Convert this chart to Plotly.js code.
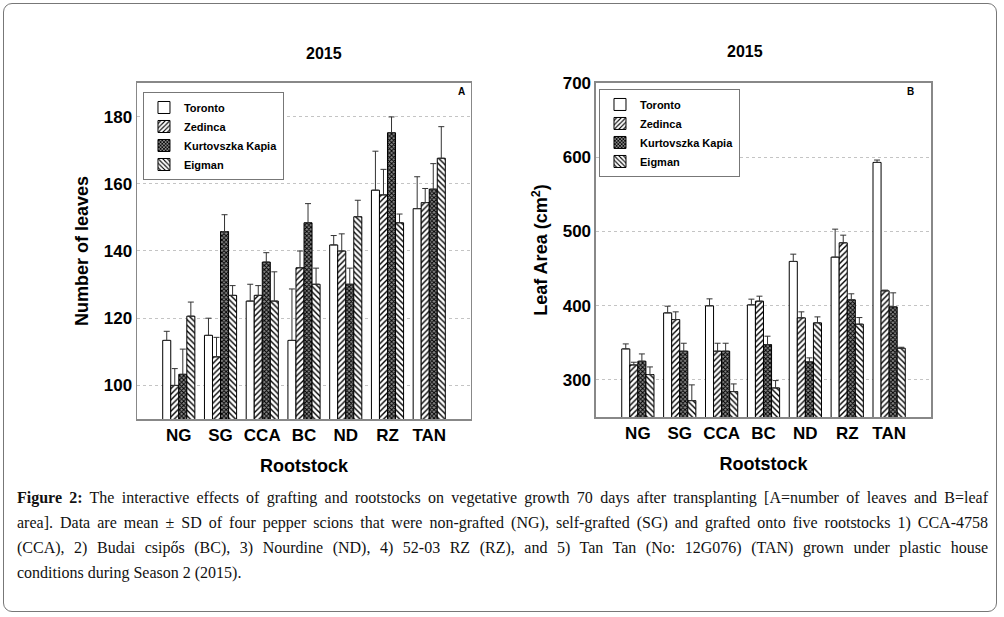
<!DOCTYPE html>
<html>
<head>
<meta charset="utf-8">
<script src="https://cdn.plot.ly/plotly-3.0.1.min.js"></script>
<style>
  html, body { margin: 0; padding: 0; background: #fff; }
  #wrap { position: relative; width: 1004px; height: 617px; }
  #chart { position: absolute; left: 0; top: 0; width: 1004px; height: 617px; }
  #frame { position: absolute; left: 3px; top: 3px; width: 992px; height: 607px; border: 1.5px solid #777; border-radius: 9px; pointer-events: none; }
  #caption { position: absolute; left: 17px; top: 485px; width: 971px; font-family: "Liberation Serif", "DejaVu Serif", serif; font-size: 16px; color: #111; }
  #caption .ln { line-height: 25px; height: 25px; white-space: nowrap; text-align: justify; text-align-last: justify; }
  #caption .ln.last { text-align: left; text-align-last: left; }
</style>
</head>
<body>
<div id="wrap">
  <div id="chart"></div>
  <div id="caption">
    <div class="ln"><b>Figure 2:</b> The interactive effects of grafting and rootstocks on vegetative growth 70 days after transplanting [A=number of leaves and B=leaf</div>
    <div class="ln">area]. Data are mean ± SD of four pepper scions that were non-grafted (NG), self-grafted (SG) and grafted onto five rootstocks 1) CCA-4758</div>
    <div class="ln">(CCA), 2) Budai csipős (BC), 3) Nourdine (ND), 4) 52-03 RZ (RZ), and 5) Tan Tan (No: 12G076) (TAN) grown under plastic house</div>
    <div class="ln last">conditions during Season 2 (2015).</div>
  </div>
  <div id="frame"></div>
</div>
<script>
// ---- data ----
const categories = ['NG', 'SG', 'CCA', 'BC', 'ND', 'RZ', 'TAN'];
const seriesNames = ['Toronto', 'Zedinca', 'Kurtovszka Kapia', 'Eigman'];

// Panel A: number of leaves (mean, SD)
const leavesToronto = [113.4, 114.9, 125.1, 113.4, 141.8, 158.1, 152.6];
const leavesZedinca = [100.0, 108.5, 126.8, 135.0, 140.0, 156.7, 154.4];
const leavesKurt    = [103.3, 145.8, 136.7, 148.4, 130.1, 175.2, 158.4];
const leavesEigman  = [120.6, 126.8, 125.1, 130.1, 150.2, 148.4, 167.6];
const leavesTorontoSD = [2.7, 5.1, 5.0, 15.3, 2.8, 11.6, 9.5];
const leavesZedincaSD = [5.0, 5.8, 2.9, 5.0, 5.1, 7.6, 4.2];
const leavesKurtSD    = [7.5, 5.0, 2.8, 5.7, 4.8, 4.7, 7.6];
const leavesEigmanSD  = [4.2, 2.9, 8.7, 4.8, 4.9, 2.6, 9.4];

// Panel B: leaf area (mean, SD)
const areaToronto = [341.8, 390.3, 399.8, 401.1, 459.6, 465.4, 593.0];
const areaZedinca = [320.2, 381.3, 338.7, 406.1, 383.6, 484.7, 420.0];
const areaKurt    = [325.2, 338.7, 338.7, 347.6, 324.3, 407.9, 398.4];
const areaEigman  = [307.2, 272.1, 284.3, 289.2, 376.9, 375.1, 342.7];
const areaTorontoSD = [6.7, 9.0, 9.4, 7.7, 9.8, 37.7, 3.2];
const areaZedincaSD = [3.6, 10.4, 10.7, 6.7, 8.1, 10.3, 1.0];
const areaKurtSD    = [9.8, 10.7, 10.7, 11.3, 5.4, 8.1, 18.9];
const areaEigmanSD  = [10.3, 21.2, 10.3, 9.9, 8.0, 8.9, 1.3];

const leavesTickVals = [100, 120, 140, 160, 180];
const areaTickVals = [300, 400, 500, 600, 700];

// ---- styles ----
const patterns = [
  { shape: '', bgcolor: '#ffffff' },
  { shape: '/', fgcolor: '#000', bgcolor: '#ffffff', size: 4, solidity: 0.35 },
  { shape: 'x', fgcolor: '#000', bgcolor: '#8a8a8a', size: 3, solidity: 0.55 },
  { shape: '\\', fgcolor: '#000', bgcolor: '#ffffff', size: 4, solidity: 0.35 }
];

const noLower = categories.map(() => 0);

function makeTrace(name, idx, y, sd, xa, ya, legendId) {
  return {
    type: 'bar', name: name, x: categories, y: y,
    xaxis: xa, yaxis: ya, legend: legendId,
    marker: { color: '#ffffff', line: { color: '#000', width: 1 }, pattern: patterns[idx] },
    error_y: { type: 'data', symmetric: false, array: sd, arrayminus: noLower, color: '#333', thickness: 1, width: 3 }
  };
}

const dataA = [leavesToronto, leavesZedinca, leavesKurt, leavesEigman];
const sdA = [leavesTorontoSD, leavesZedincaSD, leavesKurtSD, leavesEigmanSD];
const dataB = [areaToronto, areaZedinca, areaKurt, areaEigman];
const sdB = [areaTorontoSD, areaZedincaSD, areaKurtSD, areaEigmanSD];

const traces = [];
seriesNames.forEach((n, i) => traces.push(makeTrace(n, i, dataA[i], sdA[i], 'x', 'y', 'legend')));
seriesNames.forEach((n, i) => traces.push(makeTrace(n, i, dataB[i], sdB[i], 'x2', 'y2', 'legend2')));

const tickFont = { family: 'Liberation Sans, Arial, sans-serif', size: 17, color: '#000', weight: 'bold' };
const titleFont = { family: 'Liberation Sans, Arial, sans-serif', size: 18, color: '#000', weight: 'bold' };

function xAxis(domain, anchor) {
  return {
    domain: domain, anchor: anchor, type: 'category', range: [-1, 7],
    showline: true, mirror: true, linecolor: '#888', linewidth: 1.5,
    ticks: '', showgrid: false, tickfont: tickFont,
    title: { text: 'Rootstock', font: titleFont, standoff: 15 }
  };
}
function yAxis(domain, anchor, range, tv, title) {
  return {
    domain: domain, anchor: anchor, range: range, tickvals: tv,
    showline: true, mirror: true, linecolor: '#888', linewidth: 1.5,
    ticks: '', showgrid: true, gridcolor: '#c4c4c4', griddash: 'dot', gridwidth: 1,
    zeroline: false, tickfont: tickFont,
    title: { text: title, font: titleFont, standoff: 10 }
  };
}

const legendCommon = {
  bgcolor: '#fff', bordercolor: '#777', borderwidth: 1,
  font: { family: 'Liberation Sans, Arial, sans-serif', size: 11, color: '#000', weight: 'bold' },
  xanchor: 'left', yanchor: 'top', traceorder: 'normal', itemwidth: 30
};

const annFont = (s) => ({ family: 'Liberation Sans, Arial, sans-serif', size: s, color: '#000', weight: 'bold' });

const layout = {
  width: 1004, height: 617,
  margin: { l: 0, r: 0, t: 0, b: 0 },
  paper_bgcolor: '#fff', plot_bgcolor: '#fff',
  barmode: 'group', bargap: 0.23, bargroupgap: 0,
  showlegend: true,
  xaxis: xAxis([0.1365, 0.4691], 'y'),
  yaxis: yAxis([0.3209, 0.8655], 'x', [90, 190], leavesTickVals, 'Number of leaves'),
  xaxis2: xAxis([0.5936, 0.9273], 'y2'),
  yaxis2: yAxis([0.3241, 0.8655], 'x2', [250, 700], areaTickVals, 'Leaf Area (cm<sup>2</sup>)'),
  legend: Object.assign({}, legendCommon, { x: 0.1424, y: 0.8509 }),
  legend2: Object.assign({}, legendCommon, { x: 0.5966, y: 0.8558 }),
  annotations: [
    { xref: 'paper', yref: 'paper', x: 0.3028, y: 0.914, yanchor: 'middle', text: '2015', showarrow: false, font: annFont(16) },
    { xref: 'paper', yref: 'paper', x: 0.7622, y: 0.916, yanchor: 'middle', text: '2015', showarrow: false, font: annFont(16) },
    { xref: 'paper', yref: 'paper', x: 0.4597, y: 0.851, yanchor: 'middle', text: 'A', showarrow: false, font: annFont(10) },
    { xref: 'paper', yref: 'paper', x: 0.9124, y: 0.851, yanchor: 'middle', text: 'B', showarrow: false, font: annFont(10) }
  ]
};

Plotly.newPlot('chart', traces, layout, { staticPlot: true, displayModeBar: false });
</script>
</body>
</html>
